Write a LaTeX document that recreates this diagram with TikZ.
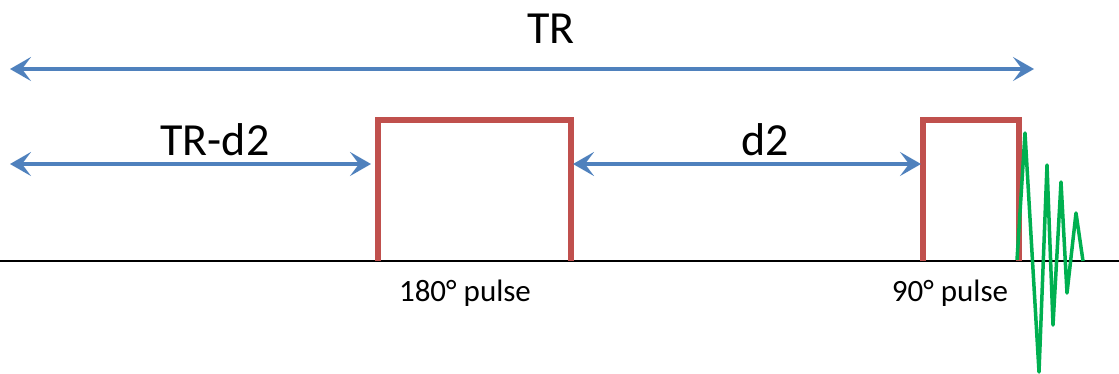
\documentclass[tikz,border=0pt]{standalone}
\usepackage{fontspec}
\setmainfont{Carlito}
\usetikzlibrary{arrows.meta}
\definecolor{pulsered}{HTML}{C0504D}
\definecolor{spanblue}{HTML}{4F81BD}
\definecolor{echogreen}{HTML}{00B050}
\tikzset{
  span/.style={draw=spanblue, line width=4.5pt,
    {Stealth[length=21pt,width=24pt,inset=9pt]}-{Stealth[length=21pt,width=24pt,inset=9pt]}},
  rfpulse/.style={draw=pulsered, line width=5.5pt, line join=miter},
  axis/.style={draw=black, line width=2pt},
  signal/.style={draw=echogreen, line width=3.5pt, line join=round},
  biglabel/.style={font=\fontsize{46}{50}\selectfont, anchor=base, inner sep=0pt},
  smalllabel/.style={font=\fontsize{31}{34}\selectfont, anchor=base, inner sep=0pt}
}
\begin{document}
\begin{tikzpicture}[x=1pt, y=-1pt]
  \useasboundingbox (0,0) rectangle (1119,373);

  % time axis
  \coordinate (axL) at (0,261);
  \coordinate (axR) at (1119,261);
  \draw[axis] (axL) -- (axR);

  % 180 degree pulse
  \coordinate (p1a) at (378,261);
  \coordinate (p1b) at (378,120);
  \coordinate (p1c) at (571,120);
  \coordinate (p1d) at (571,261);
  \draw[rfpulse] (p1a) -- (p1b) -- (p1c) -- (p1d);

  % 90 degree pulse
  \coordinate (p2a) at (923,261);
  \coordinate (p2b) at (923,120);
  \coordinate (p2c) at (1019,120);
  \coordinate (p2d) at (1019,261);
  \draw[rfpulse] (p2a) -- (p2b) -- (p2c) -- (p2d);

  % decaying echo signal
  \draw[signal] (1017,260) -- (1025,133) -- (1039,372) -- (1047,165)
    -- (1053,325) -- (1061,182) -- (1067,293) -- (1076,213) -- (1083,261);

  % repetition time and delay spans
  \coordinate (trL) at (10,69);
  \coordinate (trR) at (1034,69);
  \draw[span] (trL) -- (trR);

  \coordinate (waitL) at (10,164);
  \coordinate (waitR) at (371,164);
  \draw[span] (waitL) -- (waitR);

  \coordinate (dL) at (573,164);
  \coordinate (dR) at (921,164);
  \draw[span] (dL) -- (dR);

  % labels
  \node[biglabel] (lTR) at (551,43) {TR};
  \node[biglabel] (lTRd) at (215,155) {TR-d2};
  \node[biglabel] (ld) at (765,155) {d2};
  \node[smalllabel] (l180) at (465,301) {180° pulse};
  \node[smalllabel] (l90) at (950,301) {90° pulse};
\end{tikzpicture}
\end{document}
